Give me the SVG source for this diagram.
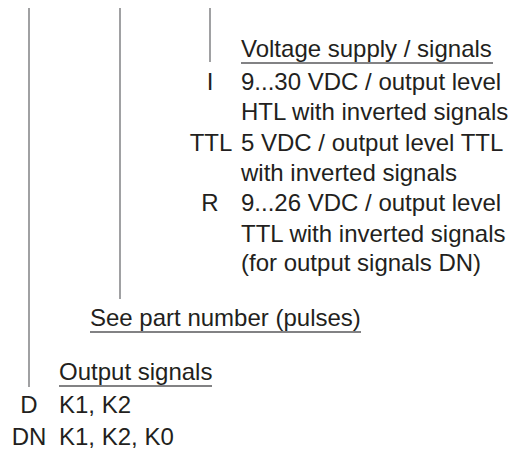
<svg xmlns="http://www.w3.org/2000/svg" width="510" height="453" viewBox="0 0 510 453">
<style>
.t{font-family:"Liberation Sans",Arial,sans-serif;font-size:24px;fill:#231f20}
.m{text-anchor:middle}
.lead{stroke:#6d6e71;stroke-width:1.3;fill:none}
.ul{stroke:#58595b;stroke-width:1.5;fill:none}
</style>
<rect width="510" height="453" fill="#ffffff"/>
<g id="connectors">
<line class="lead" x1="29" y1="8" x2="29" y2="387"/>
<line class="lead" x1="120" y1="8" x2="120" y2="299"/>
<line class="lead" x1="210" y1="8" x2="210" y2="62"/>
</g>
<g id="voltage">
<text class="t" x="241" y="57">Voltage supply / signals</text>
<line class="ul" x1="241" y1="63" x2="493" y2="63"/>
<text class="t m" x="210" y="90">I</text>
<text class="t" x="241" y="90">9...30 VDC / output level</text>
<text class="t" x="241" y="120.3">HTL with inverted signals</text>
<text class="t m" x="211" y="150.6">TTL</text>
<text class="t" x="241" y="150.6">5 VDC / output level TTL</text>
<text class="t" x="241" y="180.9">with inverted signals</text>
<text class="t m" x="210" y="211.2">R</text>
<text class="t" x="241" y="211.2">9...26 VDC / output level</text>
<text class="t" x="241" y="241.5">TTL with inverted signals</text>
<text class="t" x="241" y="270.5">(for output signals DN)</text>
</g>
<g id="pulses">
<text class="t" x="90" y="326">See part number (pulses)</text>
<line class="ul" x1="90" y1="332" x2="361" y2="332"/>
</g>
<g id="output">
<text class="t" x="59" y="380">Output signals</text>
<line class="ul" x1="59" y1="386" x2="212" y2="386"/>
<text class="t m" x="29" y="413">D</text>
<text class="t" x="59" y="413">K1, K2</text>
<text class="t m" x="29" y="445">DN</text>
<text class="t" x="59" y="445">K1, K2, K0</text>
</g>
</svg>
